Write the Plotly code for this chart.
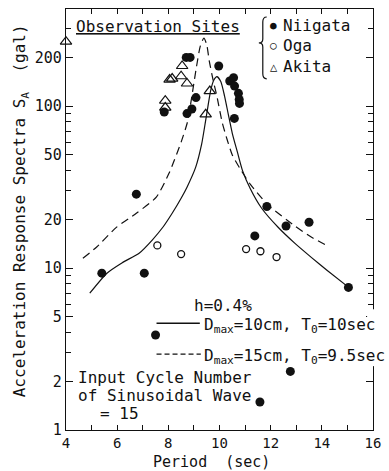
import plotly.graph_objects as go

# ---------------- data ----------------
niigata_x = [5.4, 6.75, 7.06, 7.5, 7.84, 8.73, 8.7, 8.85, 8.92, 9.08, 9.97,
             10.4, 10.55, 10.59, 10.74, 10.77, 10.78, 10.58, 11.38, 11.58,
             11.85, 12.6, 12.77, 13.5, 15.04]
niigata_y = [9.3, 28.6, 9.3, 3.86, 92, 90, 200, 200, 96, 113, 177,
             143, 150, 133, 120, 110, 104, 84, 15.8, 1.49,
             24, 18.2, 2.3, 19.2, 7.6]

oga_x = [7.57, 8.5, 11.04, 11.6, 12.23]
oga_y = [13.8, 12.2, 13.1, 12.7, 11.7]

akita_x = [4.0, 7.88, 7.88, 8.05, 8.15, 8.5, 8.54, 8.73, 9.46, 9.62]
akita_y = [250, 108, 98, 146, 148, 153, 177, 138, 89, 124]

# h=0.4%, Dmax=10cm, T0=10sec (solid)
solid_x = [4.93, 5.6, 6.2, 6.87, 7.37, 7.8, 8.15, 8.5, 8.73, 9.07, 9.3, 9.45,
           9.55, 9.65, 9.78, 9.9, 10.05, 10.2, 10.35, 10.5, 10.7, 10.9, 11.2,
           11.64, 12.3, 12.95, 13.6, 14.2, 15.05]
solid_y = [7.0, 9.3, 10.8, 12.4, 14.9, 18, 21.8, 27, 31.6, 42, 58, 80,
           100, 124, 145, 152, 142, 115, 88, 68, 52, 40, 31,
           23.5, 17.8, 14.2, 11.6, 9.7, 7.6]

# h=0.4%, Dmax=15cm, T0=9.5sec (dashed)
dash_x = [4.66, 5.2, 5.98, 6.75, 7.53, 8.03, 8.5, 8.75, 8.9, 9.1, 9.25, 9.39,
          9.5, 9.6, 9.75, 9.9, 10.1, 10.3, 10.5, 10.85, 11.2, 11.9, 12.95,
          13.6, 14.3]
dash_y = [11.5, 13.5, 17.9, 21.8, 27.4, 38.6, 60, 80, 110, 175, 235, 263,
          240, 190, 145, 115, 80, 62, 50, 40, 33, 24.5, 18.2,
          15.5, 13.5]

x_ticks = [4, 6, 8, 10, 12, 14, 16]
y_ticks = [1, 2, 5, 10, 20, 50, 100, 200]
y_ticktext = ["1", "2", "5", "10", "20", "50", "100", "200"]
y_minor = [3, 4, 6, 7, 8, 9, 30, 40, 60, 70, 80, 90, 300]

# ---------------- layout helpers (pixel -> paper) ----------------
W, H = 389, 471
L, R, T, B = 66, 11, 8, 41
PW, PH = W - L - R, H - T - B


def px(x):
    return (x - L) / PW


def py(y):
    return (H - B - y) / PH


FONT = "DejaVu Sans Mono"
INK = "#111111"

fig = go.Figure()

fig.add_trace(go.Scatter(x=solid_x, y=solid_y, mode="lines",
                         line=dict(color=INK, width=1.2, shape="spline", smoothing=0.6),
                         showlegend=False, hoverinfo="skip"))
fig.add_trace(go.Scatter(x=dash_x, y=dash_y, mode="lines",
                         line=dict(color=INK, width=1.2, dash="8px,5px",
                                   shape="spline", smoothing=0.6),
                         showlegend=False, hoverinfo="skip"))
fig.add_trace(go.Scatter(x=niigata_x, y=niigata_y, mode="markers", name="Niigata",
                         marker=dict(symbol="circle", size=9, color=INK),
                         showlegend=False, cliponaxis=False))
fig.add_trace(go.Scatter(x=oga_x, y=oga_y, mode="markers", name="Oga",
                         marker=dict(symbol="circle-open", size=7, color=INK,
                                     line=dict(width=1.3)),
                         showlegend=False, cliponaxis=False))
fig.add_trace(go.Scatter(x=akita_x, y=akita_y, mode="markers", name="Akita",
                         marker=dict(symbol="triangle-up-open", size=10, color=INK,
                                     line=dict(width=1.2)),
                         showlegend=False, cliponaxis=False))

ann = []


def text(s, x, y, xanchor="left", size=16, **kw):
    ann.append(dict(text=s, x=px(x), y=py(y), xref="paper", yref="paper",
                    xanchor=xanchor, yanchor="middle", showarrow=False,
                    font=dict(family=FONT, size=size, color=INK), **kw))


text("<u>Observation Sites</u>", 160, 26, xanchor="center")
text("●", 277, 25, xanchor="center", size=11)
text("○", 277, 45, xanchor="center", size=11)
text("△", 277, 66, xanchor="center", size=12)
text("Niigata", 285, 25)
text("Oga", 285, 45)
text("Akita", 285, 66)
text("h=0.4%", 194, 305)
text("D<sub>max</sub>=10cm, T<sub>0</sub>=10sec", 204, 325)
text("D<sub>max</sub>=15cm, T<sub>0</sub>=9.5sec", 204, 356)
text("Input Cycle Number", 76, 377)
text("of Sinusoidal Wave", 76, 395)
text("= 15", 99, 413)
# axis titles
text("Acceleration Response Spectra S<sub>A</sub>\u00a0\u00a0(gal)", 20, 210,
     xanchor="center", textangle=-90)
text("Period\u00a0\u00a0(sec)", 214, 462, xanchor="center", size=15)

shapes = [
    # legend brace
    dict(type="path", xref="paper", yref="paper",
         path=("M {a},{b} Q {c},{b} {c},{d} L {c},{e} Q {c},{f} {g},{f} "
               "Q {c},{f} {c},{h} L {c},{i} Q {c},{j} {a},{j}").format(
             a=px(270), b=py(16), c=px(266), d=py(21), e=py(38), f=py(42),
             g=px(262), h=py(46), i=py(73), j=py(78)),
         line=dict(color=INK, width=1.2)),
    # curve legend samples
    dict(type="line", xref="paper", yref="paper", x0=px(158), x1=px(202),
         y0=py(323), y1=py(323), line=dict(color=INK, width=1.3)),
    dict(type="line", xref="paper", yref="paper", x0=px(158), x1=px(203),
         y0=py(354), y1=py(354), line=dict(color=INK, width=1.3, dash="5px,3px")),
    # gap in the right frame where the legend text runs through it
    dict(type="rect", xref="paper", yref="paper", x0=px(372), x1=px(385),
         y0=py(366), y1=py(309), fillcolor="white", line=dict(width=0),
         layer="above"),
]

fig.update_layout(
    width=W, height=H, margin=dict(l=L, r=R, t=T, b=B),
    paper_bgcolor="white", plot_bgcolor="white",
    font=dict(family=FONT, size=15, color=INK),
    annotations=ann, shapes=shapes, showlegend=False,
    xaxis=dict(range=[4, 16], tickvals=x_ticks, ticks="inside", ticklen=5,
               tickwidth=1.2, tickcolor=INK, showline=True, linecolor=INK,
               linewidth=1.3, mirror="allticks", showgrid=False, zeroline=False,
               tickfont=dict(family=FONT, size=14),
               minor=dict(tickvals=[5, 7, 9, 11, 13, 15], ticks="inside",
                          ticklen=5, tickwidth=1.2, tickcolor=INK, showgrid=False)),
    yaxis=dict(type="log", range=[0, 2.6], tickvals=y_ticks, ticktext=y_ticktext,
               ticks="inside", ticklen=7, tickwidth=1.2, tickcolor=INK,
               showline=True, linecolor=INK, linewidth=1.3, mirror="allticks",
               showgrid=False, zeroline=False, tickfont=dict(family=FONT, size=15),
               minor=dict(tickvals=y_minor, ticks="inside", ticklen=5,
                          tickwidth=1.1, tickcolor=INK, showgrid=False)),
)

fig.write_html("out.html")
